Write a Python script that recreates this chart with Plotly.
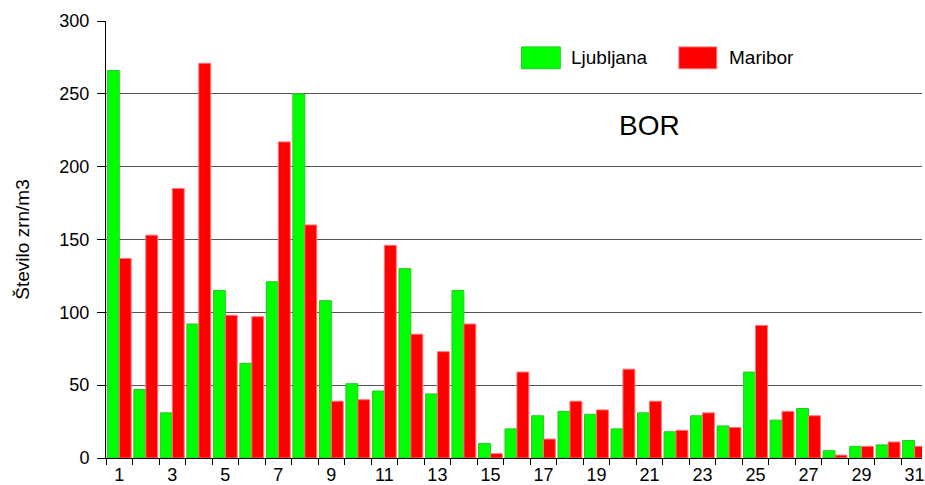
import plotly.graph_objects as go

# Daily pollen counts (BOR) for the two stations
days = list(range(1, 32))
ljubljana = [266, 47, 31, 92, 115, 65, 121, 250, 108, 51, 46, 130, 44, 115, 10, 20,
             29, 32, 30, 20, 31, 18, 29, 22, 59, 26, 34, 5, 8, 9, 12]
maribor = [137, 153, 185, 271, 98, 97, 217, 160, 39, 40, 146, 85, 73, 92, 3, 59,
           13, 39, 33, 61, 39, 19, 31, 21, 91, 32, 29, 2, 8, 11, 8]
series_names = ["Ljubljana", "Maribor"]
series_colors = ["#00ff00", "#ff0000"]
edge_colors = ["#22cc22", "#ff7777"]
x_labels = [d for d in days if d % 2 == 1]
y_ticks = [0, 50, 100, 150, 200, 250, 300]

FONT = "Liberation Sans, Arial, sans-serif"
W, H = 925, 485
L, R, T, B = 106, 0, 21, 25
plot_w = W - L - R
plot_h = H - T - B

fig = go.Figure()
for name, vals, col, edge in zip(series_names, [ljubljana, maribor], series_colors, edge_colors):
    fig.add_trace(go.Bar(
        x=days, y=vals, name=name,
        marker=dict(color=col, line=dict(color=edge, width=1)),
        showlegend=False,
    ))


def px_x(px):
    return (px - L) / plot_w


def px_y(py):
    return (H - B - py) / plot_h


# Legend keys drawn as boxes with labels
shapes = []
annotations = []
legend_items = [(523, 562, 571), (681, 719, 729)]
for (x0, x1, tx), name, col, edge in zip(legend_items, series_names, series_colors, edge_colors):
    shapes.append(dict(type="rect", xref="paper", yref="paper",
                       x0=px_x(x0), x1=px_x(x1), y0=px_y(69), y1=px_y(47),
                       fillcolor=col, line=dict(color=edge, width=1)))
    annotations.append(dict(xref="paper", yref="paper", x=px_x(tx), y=px_y(58),
                            xanchor="left", yanchor="middle", text=name, showarrow=False,
                            font=dict(family=FONT, size=19, color="black")))

annotations.append(dict(xref="paper", yref="paper", x=px_x(651), y=px_y(126),
                        xanchor="center", yanchor="middle", text="BOR", showarrow=False,
                        font=dict(family=FONT, size=28, color="black")))

fig.update_layout(
    width=W, height=H,
    margin=dict(l=L, r=R, t=T, b=B, pad=0),
    paper_bgcolor="white", plot_bgcolor="white",
    barmode="group", bargap=0.1, bargroupgap=0.0,
    font=dict(family=FONT, size=18, color="black"),
    shapes=shapes, annotations=annotations,
    xaxis=dict(
        range=[0.5, 31.28],
        tickmode="array", tickvals=x_labels, ticktext=[str(d) for d in x_labels],
        ticks="", showgrid=False, zeroline=False, ticklabeloverflow="allow",
        showline=True, linecolor="black", linewidth=1,
        minor=dict(tickmode="linear", tick0=0.5, dtick=1, ticks="outside",
                   ticklen=6, tickcolor="black", tickwidth=1, showgrid=False),
        tickfont=dict(family=FONT, size=18),
    ),
    yaxis=dict(
        range=[0, 300], tickmode="array", tickvals=y_ticks,
        ticks="outside", ticklen=8, tickcolor="black", tickwidth=1,
        ticklabelstandoff=4,
        showgrid=True, gridcolor="#555555", gridwidth=1,
        zeroline=False, showline=True, linecolor="black", linewidth=1,
        tickfont=dict(family=FONT, size=18),
        title=dict(text="Število zrn/m3", font=dict(family=FONT, size=19), standoff=24),
    ),
)

fig.write_html("out.html")
